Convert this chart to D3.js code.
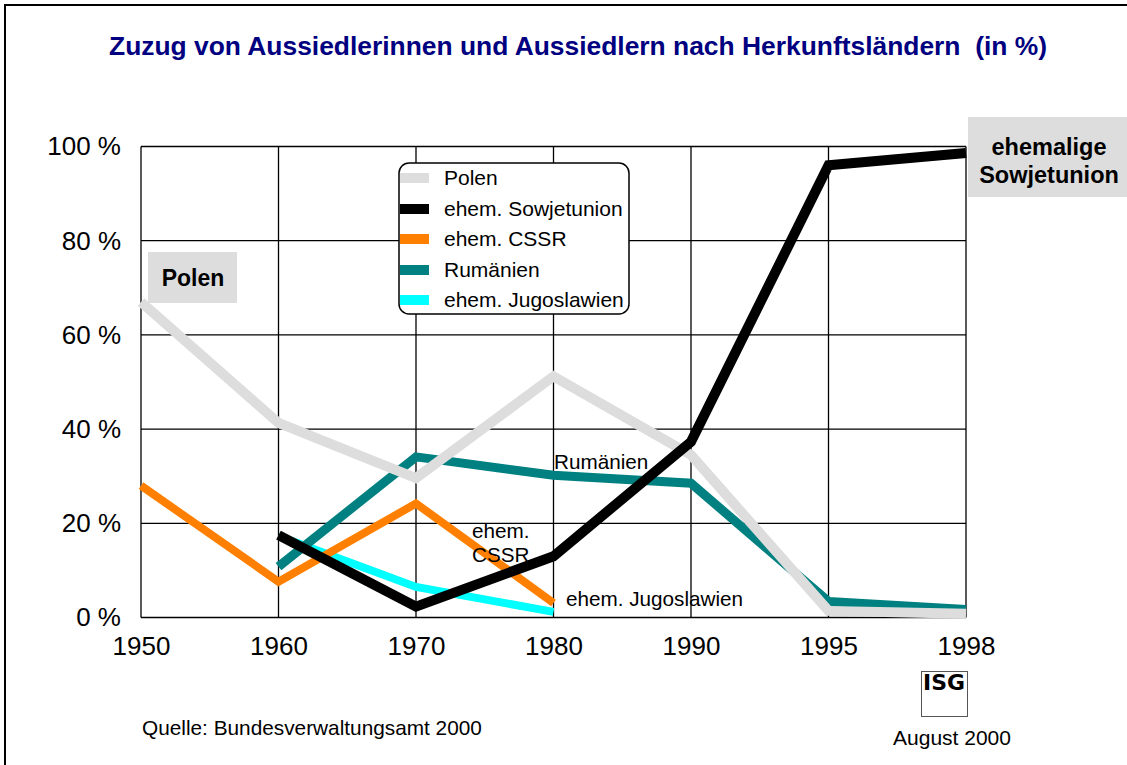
<!DOCTYPE html>
<html><head><meta charset="utf-8">
<script src="https://cdn.jsdelivr.net/npm/d3@7"></script>
<style>html,body{margin:0;padding:0;background:#fff;}svg{display:block;font-family:"Liberation Sans",Arial,sans-serif;}</style>
</head><body>
<script>
const years = ["1950","1960","1970","1980","1990","1995","1998"];
const polen = [67, 41.3, 29.6, 51.2, 34.5, 1.4, 0.8];
const sowjetunion = [null, 17.5, 2.3, 13, 37.3, 96, 98.6];
const cssr = [28, 7.6, 24.2, 3.1, null, null, null];
const rumaenien = [null, 10.8, 34.1, 30.2, 28.5, 3.4, 1.7];
const jugoslawien = [null, 17.3, 6.5, 1.2, null, null, null];
const yTicks = [0, 20, 40, 60, 80, 100];
const seriesNames = ["Polen","ehem. Sowjetunion","ehem. CSSR","Rumänien","ehem. Jugoslawien"];
const title = "Zuzug von Aussiedlerinnen und Aussiedlern nach Herkunftsländern  (in %)";

const W = 1127, H = 765;
const svg = d3.select("body").append("svg").attr("width", W).attr("height", H);
svg.append("rect").attr("x",5).attr("y",5).attr("width",1130).attr("height",770)
  .attr("fill","none").attr("stroke","#000").attr("stroke-width",2);

svg.append("text").attr("x",578).attr("y",55).attr("text-anchor","middle")
  .attr("fill","#000080").attr("font-weight","bold").attr("font-size",26.4)
  .style("white-space","pre").text(title);

const x = d3.scalePoint().domain(years).range([141, 966]);
const y = d3.scaleLinear().domain([0,100]).range([617.5, 146.5]);

// grid
const g = svg.append("g");
g.selectAll(".hg").data(yTicks).join("line")
  .attr("x1",141).attr("x2",966).attr("y1",d=>y(d)).attr("y2",d=>y(d))
  .attr("stroke","#000").attr("stroke-width",1.3);
g.selectAll(".vg").data(years).join("line")
  .attr("x1",d=>x(d)).attr("x2",d=>x(d)).attr("y1",y(0)).attr("y2",y(100))
  .attr("stroke","#000").attr("stroke-width",1.3);

// axis labels via d3 axes
const yAxis = svg.append("g").attr("transform","translate(141,0)")
  .call(d3.axisLeft(y).tickValues(yTicks).tickFormat(d=>d+" %").tickSize(0).tickPadding(20));
yAxis.select(".domain").remove();
yAxis.selectAll("text").attr("font-size",26).attr("font-family","Liberation Sans, Arial, sans-serif").attr("fill","#000");

const xAxis = svg.append("g").attr("transform","translate(0,617.5)")
  .call(d3.axisBottom(x).tickSize(0).tickPadding(19));
xAxis.select(".domain").remove();
xAxis.selectAll("text").attr("font-size",26).attr("font-family","Liberation Sans, Arial, sans-serif").attr("fill","#000");

// lines
const line = d3.line().defined(d=>d[1]!==null).x(d=>x(d[0])).y(d=>y(d[1]));
const series = [
  {vals: jugoslawien, color:"#00FFFF", w:8},
  {vals: cssr, color:"#FF8000", w:8},
  {vals: rumaenien, color:"#008080", w:9},
  {vals: polen, color:"#DDDDDD", w:10},
  {vals: sowjetunion, color:"#000000", w:10}
];
series.forEach(s=>{
  svg.append("path").datum(years.map((yr,i)=>[yr, s.vals[i]]))
    .attr("d", line).attr("fill","none").attr("stroke", s.color)
    .attr("stroke-width", s.w).attr("stroke-linejoin","miter");
});

// legend
const leg = svg.append("g");
leg.append("rect").attr("x",399).attr("y",163).attr("width",230).attr("height",151)
  .attr("rx",10).attr("fill","#fff").attr("stroke","#000").attr("stroke-width",1.5);
const legColors = ["#DDDDDD","#000000","#FF8000","#008080","#00FFFF"];
const legY = [178, 209, 239, 270, 300];
seriesNames.forEach((n,i)=>{
  leg.append("rect").attr("x",400).attr("y",legY[i]-5).attr("width",29).attr("height",10).attr("fill",legColors[i]);
  leg.append("text").attr("x",444).attr("y",legY[i]+7).attr("font-size",21).attr("fill","#000").text(n);
});

// label boxes
svg.append("rect").attr("x",148).attr("y",252).attr("width",89).attr("height",51).attr("fill","#DDDDDD");
svg.append("text").attr("x",193).attr("y",285.5).attr("text-anchor","middle").attr("font-weight","bold").attr("font-size",23).text("Polen");
svg.append("rect").attr("x",968).attr("y",117).attr("width",170).attr("height",80).attr("fill","#DDDDDD");
svg.append("text").attr("x",1049).attr("y",155).attr("text-anchor","middle").attr("font-weight","bold").attr("font-size",23.5).text("ehemalige");
svg.append("text").attr("x",1049).attr("y",183).attr("text-anchor","middle").attr("font-weight","bold").attr("font-size",23.5).text("Sowjetunion");

// inline data labels
const lab = (t,xx,yy)=>svg.append("text").attr("x",xx).attr("y",yy).attr("font-size",20.7).attr("fill","#000").text(t);
lab("Rumänien",554,469);
lab("ehem.",472,538);
lab("CSSR",472,562);
lab("ehem. Jugoslawien",566,606);

// footer
svg.append("text").attr("x",142).attr("y",735).attr("font-size",20.8).text("Quelle: Bundesverwaltungsamt 2000");
svg.append("text").attr("x",952).attr("y",745).attr("text-anchor","middle").attr("font-size",21).text("August 2000");
svg.append("rect").attr("x",921.5).attr("y",671.5).attr("width",46).attr("height",45).attr("fill","#fff").attr("stroke","#555").attr("stroke-width",1);
svg.append("text").attr("x",944).attr("y",690).attr("text-anchor","middle").attr("font-weight","900").attr("font-size",21)
  .attr("textLength",42).attr("lengthAdjust","spacingAndGlyphs").attr("font-family","DejaVu Sans, sans-serif").text("ISG");
</script>
</body></html>
